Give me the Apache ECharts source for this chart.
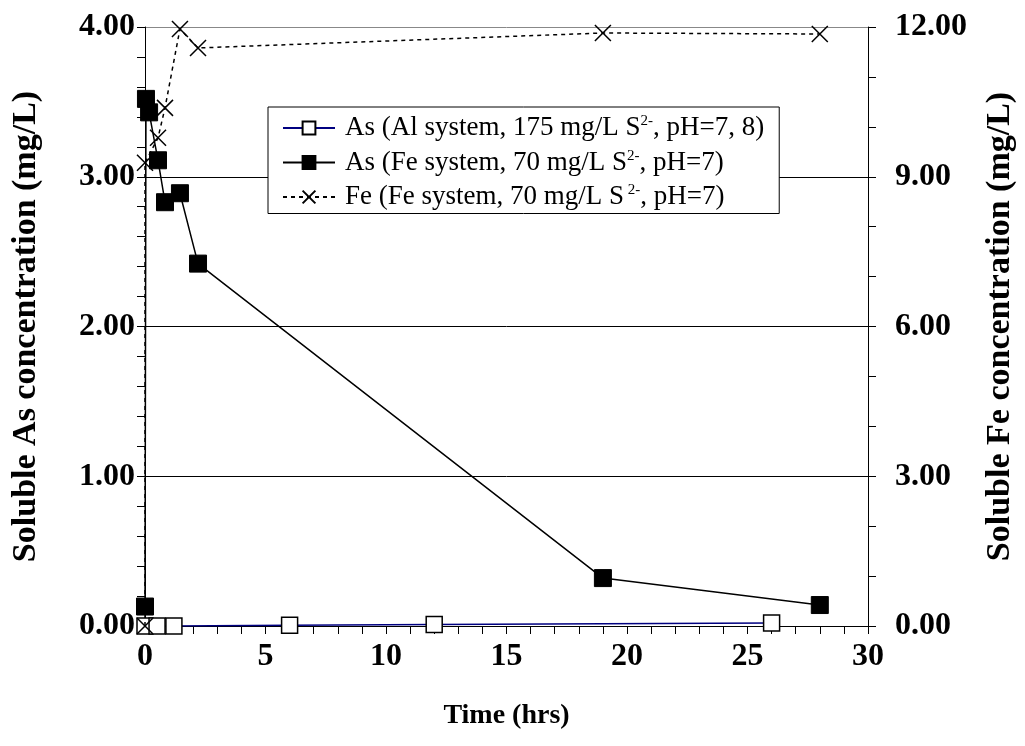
<!DOCTYPE html>
<html>
<head>
<meta charset="utf-8">
<script src="https://cdn.jsdelivr.net/npm/echarts@6/dist/echarts.min.js"></script>
<style>
  html, body { margin: 0; padding: 0; background: #fff; }
  #chart { width: 1025px; height: 746px; }
</style>
</head>
<body>
<div id="chart"></div>
<script>
// As, Al system (time hrs, mg/L)
const asAlTime = [0, 0.5, 1.2, 6, 12, 26];
const asAlConc = [0, 0, 0, 0.005, 0.01, 0.02];
// As, Fe system
const asFeTime = [0, 0.04, 0.17, 0.54, 0.83, 1.45, 2.2, 19, 28];
const asFeConc = [0.13, 3.52, 3.43, 3.11, 2.83, 2.89, 2.42, 0.32, 0.14];
// Fe, Fe system (right axis)
const feTime = [0, 0, 0.54, 0.83, 1.45, 2.2, 19, 28];
const feConc = [0, 9.28, 9.78, 10.38, 11.96, 11.58, 11.88, 11.86];

const seriesNames = ['asAl', 'asFe', 'fe'];
const legendText = {
  asAl: 'As (Al system, 175 mg/L S{sup|2-}, pH=7, 8)',
  asFe: 'As (Fe system, 70 mg/L S{sup|2-}, pH=7)',
  fe: 'Fe (Fe system, 70 mg/L S{sup| 2-}, pH=7)'
};

const serif = '"Liberation Serif", "Times New Roman", serif';
const pair = (xs, ys) => xs.map((x, i) => [x, ys[i]]);
const crossPath = 'path://M0,0L10,10M10,0L0,10';
const tickFont = { fontFamily: serif, fontSize: 32, fontWeight: 'bold', color: '#000' };

const chart = echarts.init(document.getElementById('chart'));
chart.setOption({
  animation: false,
  backgroundColor: '#fff',
  grid: { left: 145, right: 154, top: 27, bottom: 120 },
  legend: {
    data: seriesNames,
    orient: 'vertical',
    left: 268,
    top: 107,
    padding: [7, 15, 3, 14],
    itemGap: 7,
    itemWidth: 52,
    itemHeight: 16,
    backgroundColor: '#fff',
    borderColor: '#000',
    borderWidth: 1,
    formatter: n => legendText[n],
    textStyle: {
      fontFamily: serif, fontSize: 27, color: '#000', padding: [0, 0, 0, 5],
      rich: { sup: { fontFamily: serif, fontSize: 15, color: '#000', padding: [0, 0, 13, 0] } }
    }
  },
  xAxis: {
    type: 'value',
    min: 0, max: 30, interval: 5,
    name: 'Time (hrs)',
    nameLocation: 'middle',
    nameGap: 76,
    nameTextStyle: { fontFamily: serif, fontSize: 28, fontWeight: 'bold', color: '#000' },
    axisLine: { onZero: false, lineStyle: { color: '#000', width: 1 } },
    axisTick: { length: 8, lineStyle: { color: '#000' } },
    minorTick: { show: true, splitNumber: 5, length: 8, lineStyle: { color: '#000' } },
    axisLabel: Object.assign({ margin: 15 }, tickFont),
    splitLine: { show: false }
  },
  yAxis: [
    {
      type: 'value',
      min: 0, max: 4, interval: 1,
      name: 'Soluble As concentration (mg/L)',
      nameLocation: 'middle',
      nameGap: 102,
      nameTextStyle: { fontFamily: serif, fontSize: 34, fontWeight: 'bold', color: '#000' },
      axisLine: { show: true, lineStyle: { color: '#000', width: 1 } },
      axisTick: { length: 8, lineStyle: { color: '#000' } },
      minorTick: { show: true, splitNumber: 5, length: 8, lineStyle: { color: '#000' } },
      axisLabel: Object.assign({ margin: 10, formatter: v => v.toFixed(2) }, tickFont),
      splitLine: { show: true, lineStyle: { color: ['#000', '#000', '#000', '#000', '#888'], width: 1 } }
    },
    {
      type: 'value',
      min: 0, max: 12, interval: 3,
      name: 'Soluble Fe concentration (mg/L)',
      nameLocation: 'middle',
      nameGap: 115,
      nameRotate: 90,
      nameTextStyle: { fontFamily: serif, fontSize: 34, fontWeight: 'bold', color: '#000' },
      axisLine: { show: true, lineStyle: { color: '#000', width: 1 } },
      axisTick: { length: 8, lineStyle: { color: '#000' } },
      minorTick: { show: true, splitNumber: 3, length: 8, lineStyle: { color: '#000' } },
      axisLabel: Object.assign({ margin: 27, formatter: v => v.toFixed(2) }, tickFont),
      splitLine: { show: false }
    }
  ],
  series: [
    {
      name: 'asAl',
      type: 'line',
      yAxisIndex: 0,
      data: pair(asAlTime, asAlConc),
      symbol: 'rect',
      symbolSize: 16,
      lineStyle: { color: '#000080', width: 1.5 },
      itemStyle: { color: '#fff', borderColor: '#000', borderWidth: 1.5 },
      z: 3
    },
    {
      name: 'fe',
      type: 'line',
      yAxisIndex: 1,
      data: pair(feTime, feConc),
      symbol: crossPath,
      symbolSize: 16,
      lineStyle: { color: '#000', width: 1.5, type: [4, 4] },
      itemStyle: { color: '#000', borderColor: '#000', borderWidth: 1.5 },
      z: 4
    },
    {
      name: 'asFe',
      type: 'line',
      yAxisIndex: 0,
      data: pair(asFeTime, asFeConc),
      symbol: 'rect',
      symbolSize: 17,
      lineStyle: { color: '#000', width: 1.5 },
      itemStyle: { color: '#000', borderColor: '#000', borderWidth: 1 },
      z: 5
    }
  ]
});
</script>
</body>
</html>
